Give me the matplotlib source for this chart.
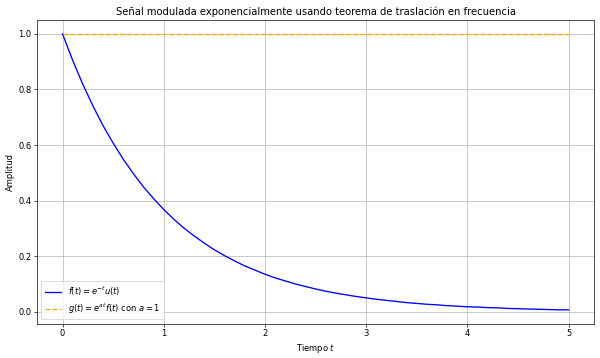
import numpy as np
from matplotlib import pyplot as plt

# tiempo (pasos de 0.1) y amplitudes
t = [round(0.1 * i, 1) for i in range(51)]
f_vals = [1.000, 0.905, 0.819, 0.741, 0.670, 0.607, 0.549, 0.497, 0.449, 0.407,
          0.368, 0.333, 0.301, 0.273, 0.247, 0.223, 0.202, 0.183, 0.165, 0.150,
          0.135, 0.122, 0.111, 0.100, 0.091, 0.082, 0.074, 0.067, 0.061, 0.055,
          0.050, 0.045, 0.041, 0.037, 0.033, 0.030, 0.027, 0.025, 0.022, 0.020,
          0.018, 0.017, 0.015, 0.014, 0.012, 0.011, 0.010, 0.009, 0.008, 0.007,
          0.007]
g_vals = [1.0] * len(t)


def main():
    fig, ax = plt.subplots(figsize=(10, 5.967), dpi=60)
    fig.subplots_adjust(left=0.062, right=0.99, top=0.944, bottom=0.096)
    ax.plot(t, f_vals, color='blue', linewidth=1.6, label=r'$f(t) = e^{-t}u(t)$')
    ax.plot(t, g_vals, color='orange', linestyle='--', linewidth=1.6,
            label=r'$g(t) = e^{at}f(t)$ con $a = 1$')
    ax.set_title('Señal modulada exponencialmente usando teorema de traslación en frecuencia')
    ax.set_xlabel('Tiempo $t$')
    ax.set_ylabel('Amplitud')
    ax.grid(True)
    ax.legend(loc='lower left')
    fig.savefig('out.png')


if __name__ == '__main__':
    main()
